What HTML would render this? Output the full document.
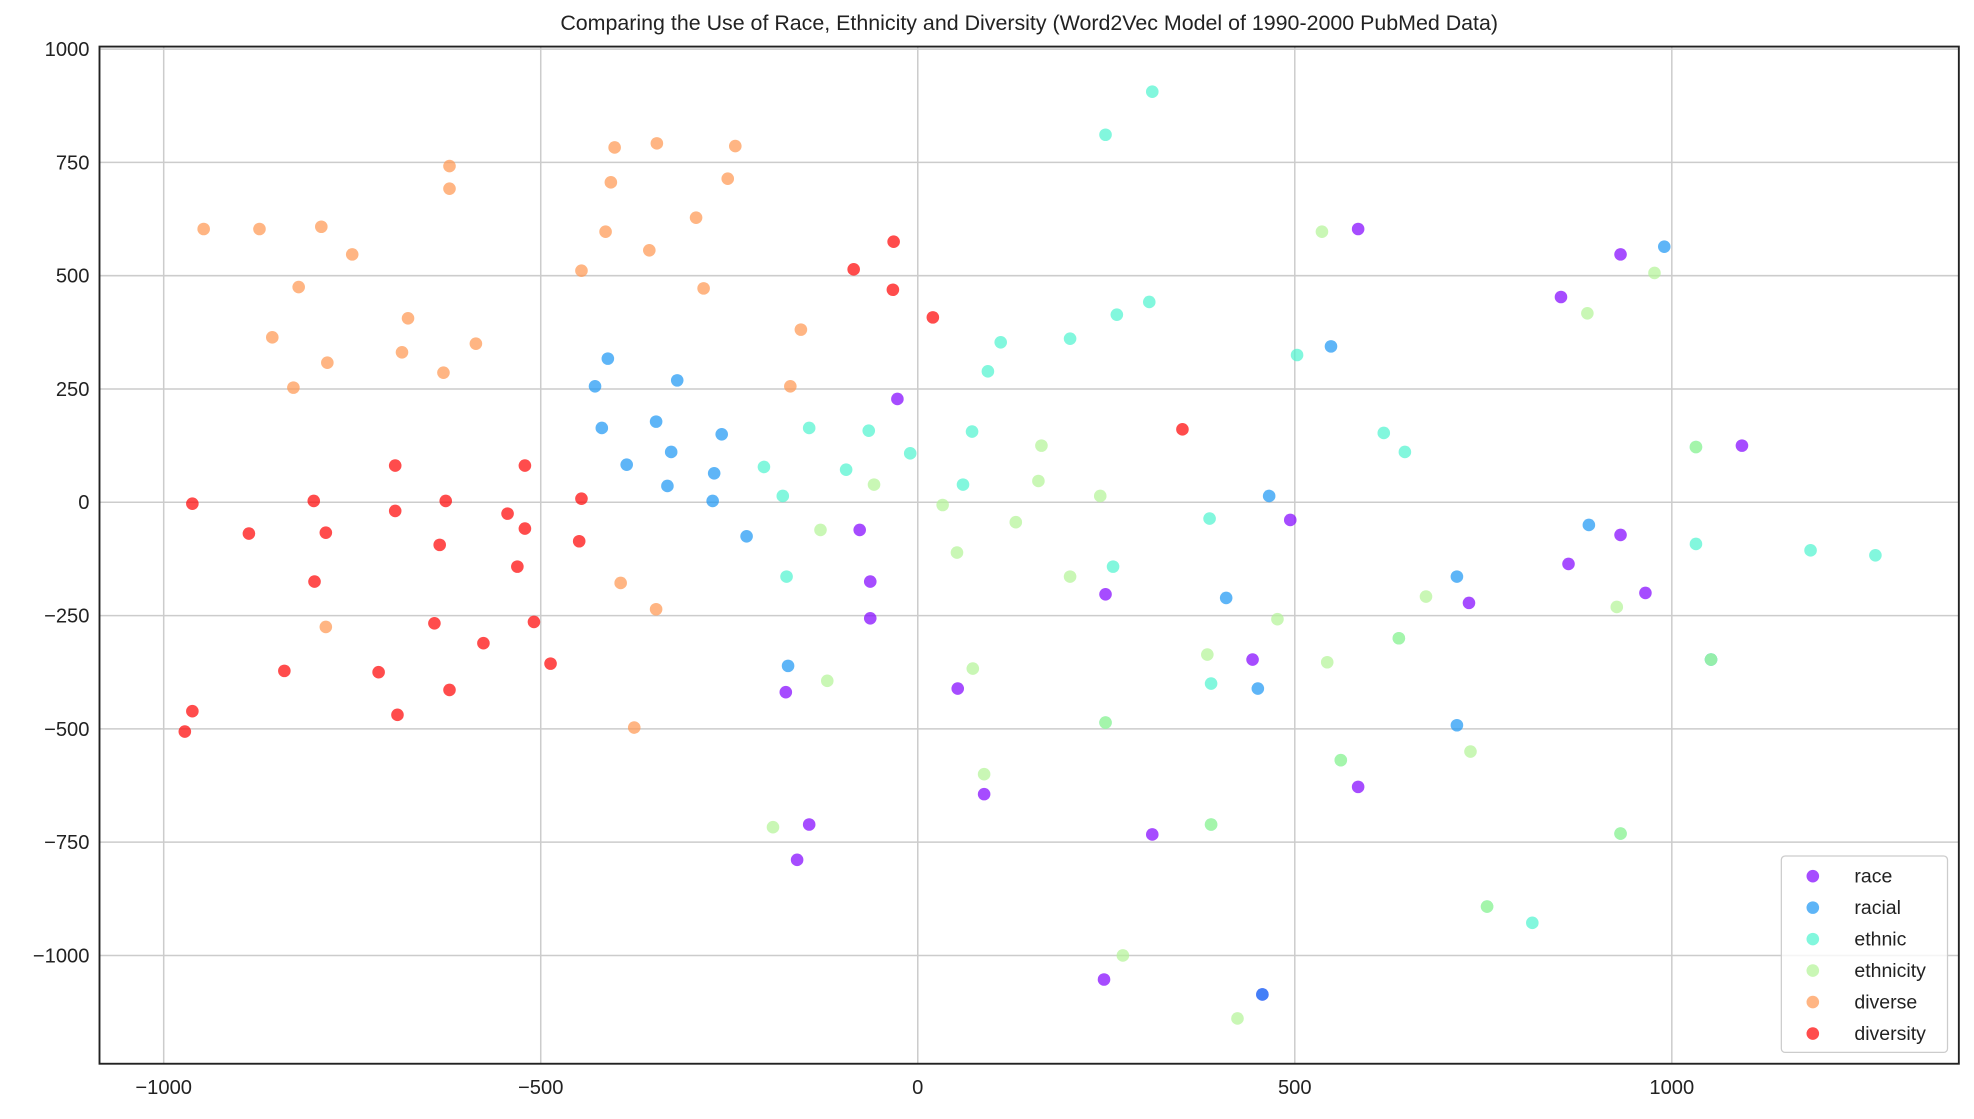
<!DOCTYPE html>
<html><head><meta charset="utf-8"><style>html,body{margin:0;padding:0;background:#fff}svg{display:block;font-family:"Liberation Sans",Arial,sans-serif}</style></head>
<body>
<svg id="chart" width="1974" height="1119" viewBox="0 0 1568 888.9" xmlns="http://www.w3.org/2000/svg"></svg>
<script>
const seriesNames = ["race","racial","ethnic","ethnicity","diverse","diversity"];
const seriesColors = ["#8000ff","#1996f3","#4df3ce","#b2f396","#ff964f","#ff0000"];
const raceX = [584,932,853,1093,494,932,863,965,731,249,-77,-27,-63,-63,444,53,-175,584,88,-144,311,-160,247,457];
const raceY = [603,547,453,125,-39,-72,-136,-200,-222,-203,-61,228,-175,-256,-347,-411,-419,-628,-644,-711,-733,-789,-1053,-1086];
const racialX = [990,548,-411,-428,-319,-347,-419,-260,-327,-386,-270,-332,-272,-227,466,890,715,409,-172,451,715,1052,457];
const racialY = [564,344,317,256,269,178,164,150,111,83,64,36,3,-75,14,-50,-164,-211,-361,-411,-492,-347,-1086];
const ethnicX = [311,249,307,264,202,110,93,503,618,646,-144,-65,72,-10,-95,-204,60,-179,387,1032,1184,1270,259,-174,389,561,815,755,1052,249,389,932,638,1032];
const ethnicY = [906,811,442,414,361,353,289,325,153,111,164,158,156,108,72,78,39,14,-36,-92,-106,-117,-142,-164,-400,-569,-928,-892,-347,-486,-711,-731,-300,122];
const ethnicityX = [536,977,888,1032,164,160,-58,242,33,130,-129,52,202,674,927,477,638,384,543,73,-120,733,249,88,389,-192,932,755,272,424,1052,561];
const ethnicityY = [597,506,417,122,125,47,39,14,-6,-44,-61,-111,-164,-208,-231,-258,-300,-336,-353,-367,-394,-550,-486,-600,-711,-717,-731,-892,-1000,-1139,-347,-569];
const diverseX = [-346,-402,-242,-621,-252,-407,-621,-791,-947,-873,-414,-294,-750,-356,-446,-821,-284,-676,-155,-856,-586,-783,-684,-629,-169,-828,-394,-347,-785,-376];
const diverseY = [792,783,786,742,714,706,692,608,603,603,597,628,547,556,511,475,472,406,381,364,350,308,331,286,256,253,-178,-236,-275,-497];
const diversityX = [-32,-85,-33,20,351,-693,-521,-801,-626,-446,-962,-693,-544,-887,-785,-521,-449,-634,-531,-800,-641,-509,-576,-487,-840,-715,-621,-962,-690,-972];
const diversityY = [575,514,469,408,161,81,81,3,3,8,-3,-19,-25,-69,-67,-58,-86,-94,-142,-175,-267,-264,-311,-356,-372,-375,-414,-461,-469,-506];
const xTicks = [-1000,-500,0,500,1000];
const yTicks = [1000,750,500,250,0,-250,-500,-750,-1000];
const titleText = "Comparing the Use of Race, Ethnicity and Diversity (Word2Vec Model of 1990-2000 PubMed Data)";

const NS="http://www.w3.org/2000/svg";
const svg=document.getElementById('chart');
const L=79,R=1556,T=37,B=845;
const sx=v=>729+v*0.599;
const sy=v=>399-v*0.36;
function mk(tag,attrs,parent){const e=document.createElementNS(NS,tag);for(const k in attrs)e.setAttribute(k,attrs[k]);(parent||svg).appendChild(e);return e;}
const t=mk('text',{x:(L+R)/2,y:24,'text-anchor':'middle','font-size':17,fill:'#222'});


t.textContent=titleText;
const grid=mk('g',{});


xTicks.forEach(v=>{
  mk('line',{x1:sx(v),x2:sx(v),y1:T,y2:B,stroke:'#cccccc','stroke-width':1.2},grid);
  const l=mk('text',{x:sx(v),y:B+24,'text-anchor':'middle','font-size':16,fill:'#222'});
  
  
  l.textContent=v<0?'\u2212'+(-v):v;
});
yTicks.forEach(v=>{
  mk('line',{x1:L,x2:R,y1:sy(v),y2:sy(v),stroke:'#cccccc','stroke-width':1.2},grid);
  const l=mk('text',{x:L-8,y:sy(v)+5.5,'text-anchor':'end','font-size':16,fill:'#222'});
  
  
  l.textContent=v<0?'\u2212'+(-v):v;
});
const allX=[raceX,racialX,ethnicX,ethnicityX,diverseX,diversityX];
const allY=[raceY,racialY,ethnicY,ethnicityY,diverseY,diversityY];
allX.forEach((xs,i)=>{
  const g=mk('g',{});
  
  
  xs.forEach((x,j)=>{
    const c=mk('circle',{cx:sx(x),cy:sy(allY[i][j]),r:5,fill:seriesColors[i],'fill-opacity':0.7},g);
    
    
  });
});
const frame=mk('rect',{x:L,y:T,width:R-L,height:B-T,fill:'none',stroke:'#222','stroke-width':1.5});


const lg=mk('g',{});


mk('rect',{x:1415,y:680,width:132,height:156,rx:3,fill:'#fff','fill-opacity':0.8,stroke:'#cccccc','stroke-width':1},lg);
seriesNames.forEach((n,i)=>{
  const y=696+i*25;
  const e=mk('g',{},lg);
  
  
  mk('circle',{cx:1440,cy:y,r:5,fill:seriesColors[i],'fill-opacity':0.7},e);
  const tx=mk('text',{x:1473,y:y+5,'font-size':15.5,fill:'#222'},e);
  tx.textContent=n;
});
</script>
</body></html>
